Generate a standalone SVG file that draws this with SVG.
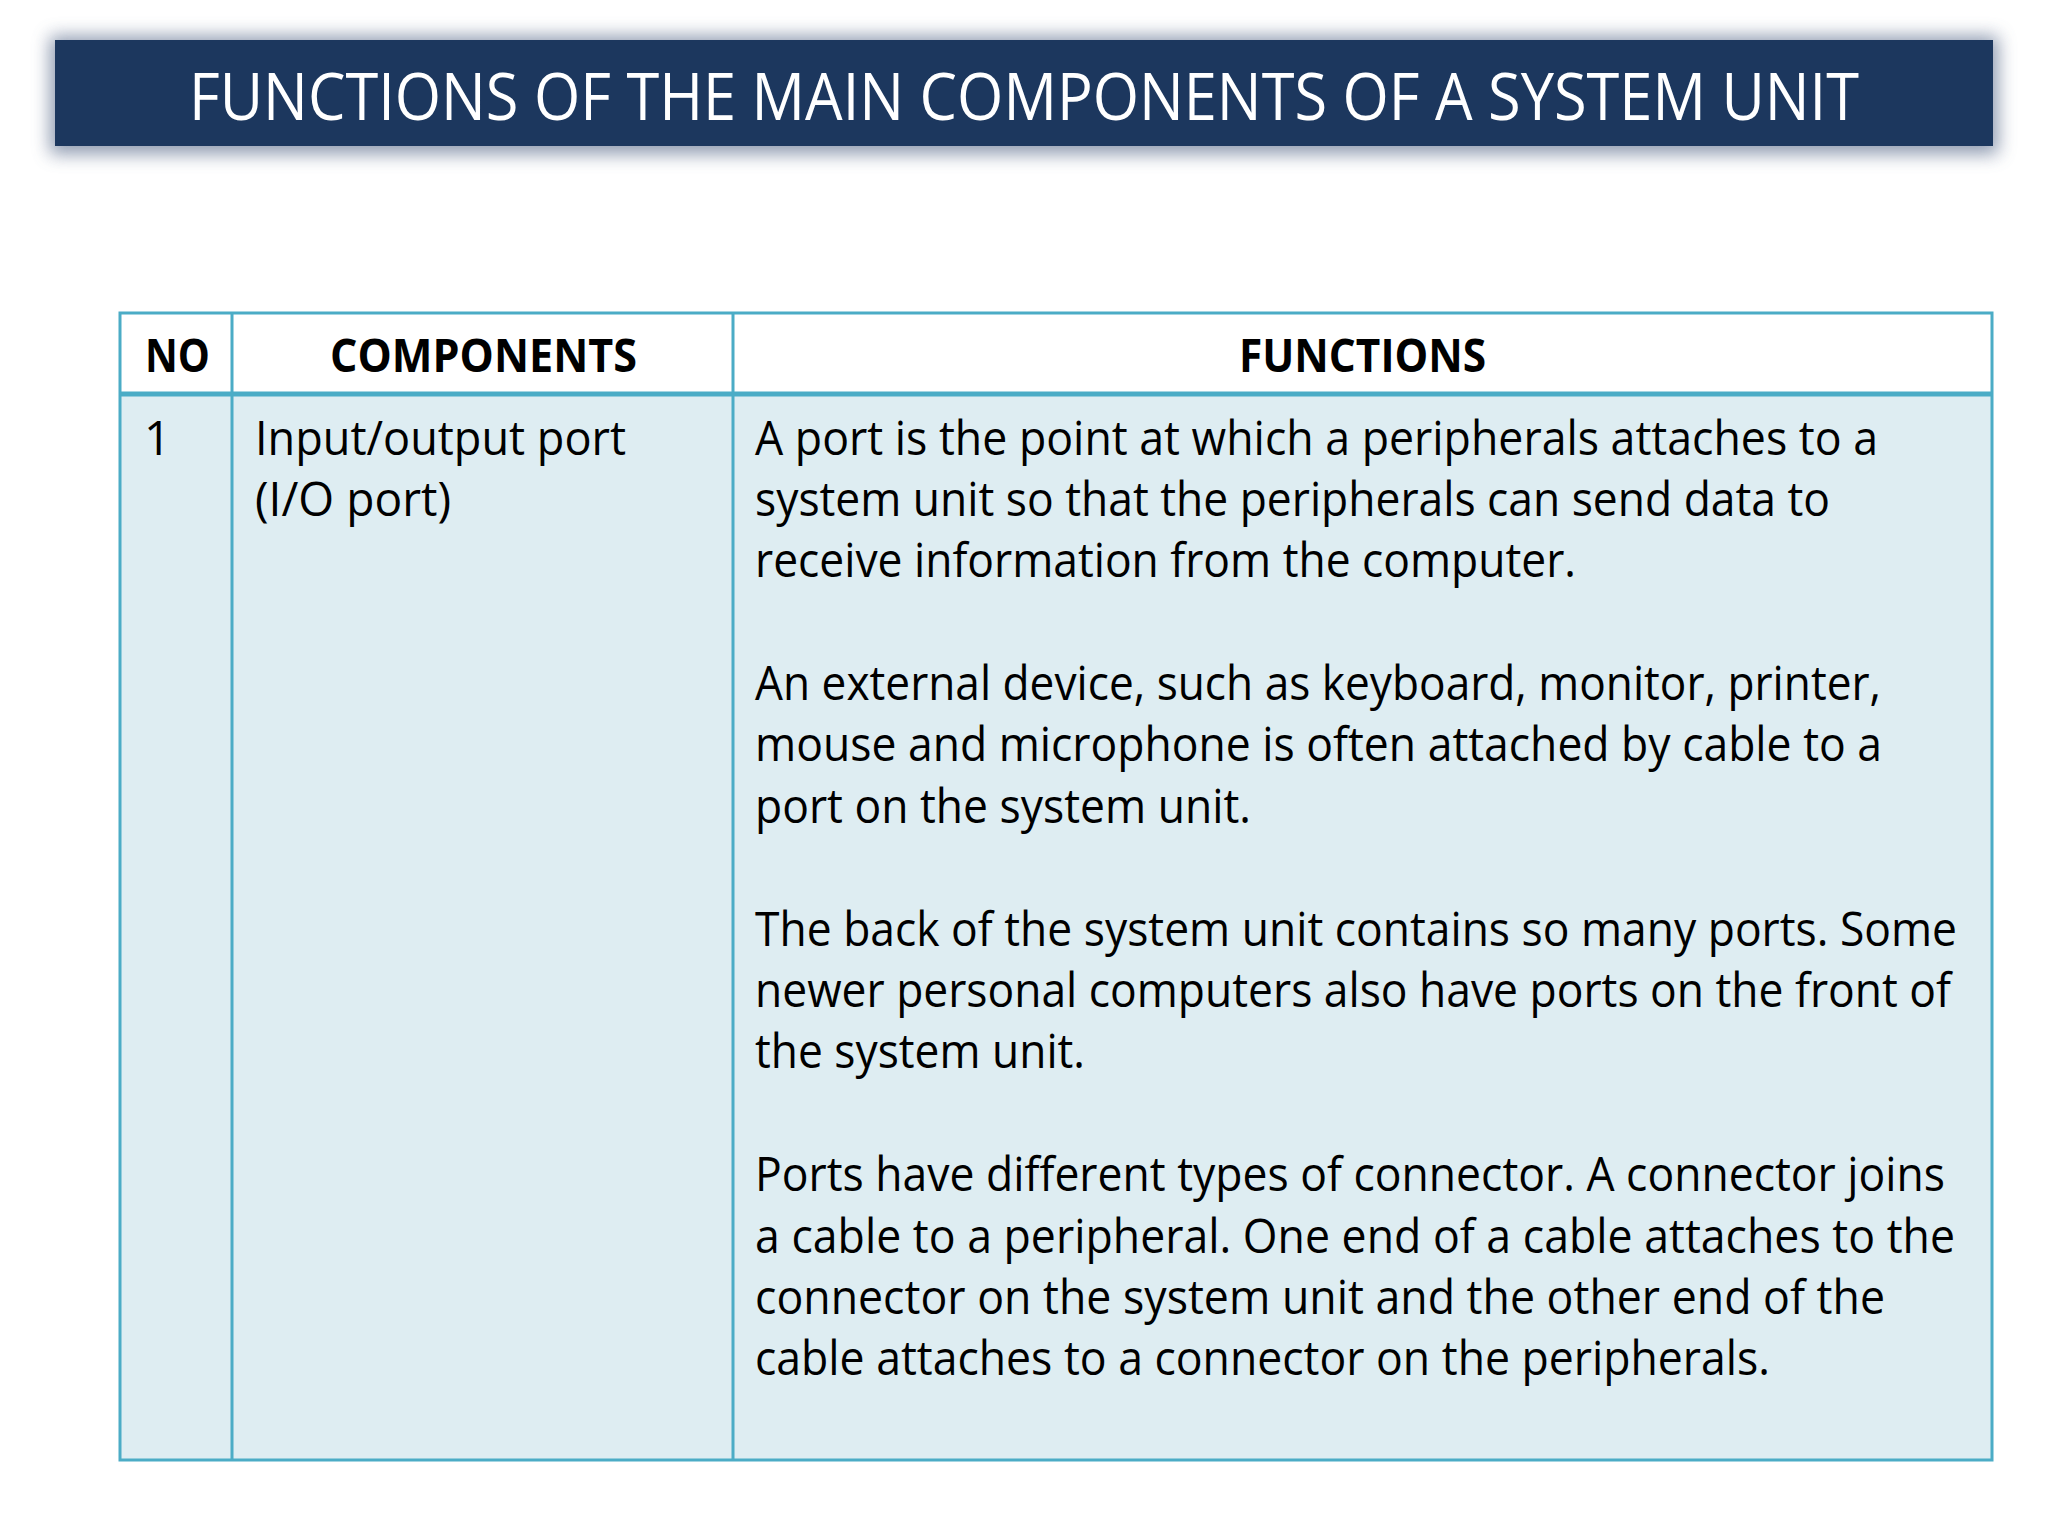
<svg xmlns="http://www.w3.org/2000/svg" width="2048" height="1536" viewBox="0 0 2048 1536">
<defs>
<filter id="sh" x="-10%" y="-50%" width="120%" height="200%"><feGaussianBlur stdDeviation="9"/></filter>
</defs>
<style>
.t{font-family:"Open Sans","Liberation Sans",sans-serif;fill:#000}
.b{font-size:47px}
.h{font-size:46px;font-weight:bold}
.ln{stroke:#4bacc6;fill:none}
</style>
<rect width="2048" height="1536" fill="#fff"/>
<g id="title">
<rect x="50" y="36" width="1948" height="118" fill="#5f6f8f" opacity="0.7" filter="url(#sh)"/>
<rect x="55" y="40" width="1938" height="106" fill="#1c375e"/>
<text x="1024" y="120" text-anchor="middle" font-family="Open Sans, Liberation Sans, sans-serif" font-size="66" fill="#fff" textLength="1670" lengthAdjust="spacingAndGlyphs">FUNCTIONS OF THE MAIN COMPONENTS OF A SYSTEM UNIT</text>
</g>
<g id="table">
<rect x="120" y="313" width="1872" height="81" fill="#fff"/>
<rect x="120" y="394" width="1872" height="1066" fill="#deedf2"/>
<rect x="120" y="313" width="1872" height="1147" class="ln" stroke-width="3"/>
<line x1="232" y1="313" x2="232" y2="1460" class="ln" stroke-width="3"/>
<line x1="733" y1="313" x2="733" y2="1460" class="ln" stroke-width="3"/>
<line x1="120" y1="394" x2="1992" y2="394" class="ln" stroke-width="5"/>
<text class="t h" x="145" y="372" textLength="65" lengthAdjust="spacingAndGlyphs">NO</text>
<text class="t h" x="330" y="372" textLength="307" lengthAdjust="spacingAndGlyphs">COMPONENTS</text>
<text class="t h" x="1239" y="372" textLength="247" lengthAdjust="spacingAndGlyphs">FUNCTIONS</text>
<text class="t b" x="144" y="455">1</text>
<text class="t b" x="255" y="455" textLength="371" lengthAdjust="spacingAndGlyphs">Input/output port</text>
<text class="t b" x="255" y="516" textLength="196" lengthAdjust="spacingAndGlyphs">(I/O port)</text>
<text class="t b" x="755" y="455" textLength="1123" lengthAdjust="spacingAndGlyphs">A port is the point at which a peripherals attaches to a</text>
<text class="t b" x="755" y="516" textLength="1075" lengthAdjust="spacingAndGlyphs">system unit so that the peripherals can send data to</text>
<text class="t b" x="755" y="577" textLength="821" lengthAdjust="spacingAndGlyphs">receive information from the computer.</text>
<text class="t b" x="755" y="700" textLength="1126" lengthAdjust="spacingAndGlyphs">An external device, such as keyboard, monitor, printer,</text>
<text class="t b" x="755" y="761" textLength="1127" lengthAdjust="spacingAndGlyphs">mouse and microphone is often attached by cable to a</text>
<text class="t b" x="755" y="823" textLength="496" lengthAdjust="spacingAndGlyphs">port on the system unit.</text>
<text class="t b" x="755" y="946" textLength="1202" lengthAdjust="spacingAndGlyphs">The back of the system unit contains so many ports. Some</text>
<text class="t b" x="755" y="1007" textLength="1196" lengthAdjust="spacingAndGlyphs">newer personal computers also have ports on the front of</text>
<text class="t b" x="755" y="1068" textLength="330" lengthAdjust="spacingAndGlyphs">the system unit.</text>
<text class="t b" x="755" y="1191" textLength="1190" lengthAdjust="spacingAndGlyphs">Ports have different types of connector. A connector joins</text>
<text class="t b" x="755" y="1253" textLength="1200" lengthAdjust="spacingAndGlyphs">a cable to a peripheral. One end of a cable attaches to the</text>
<text class="t b" x="755" y="1314" textLength="1130" lengthAdjust="spacingAndGlyphs">connector on the system unit and the other end of the</text>
<text class="t b" x="755" y="1375" textLength="1015" lengthAdjust="spacingAndGlyphs">cable attaches to a connector on the peripherals.</text>
</g>
</svg>
